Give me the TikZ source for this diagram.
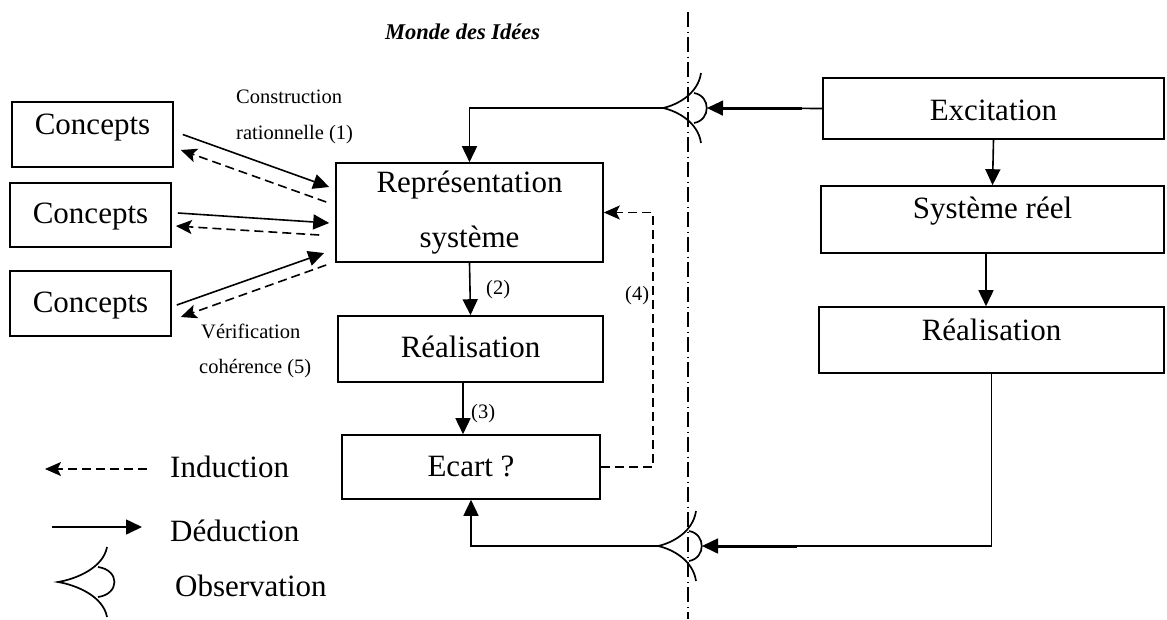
\documentclass[tikz,border=0pt]{standalone}
\usepackage{fontspec}
\setmainfont{Liberation Serif}
\usetikzlibrary{arrows.meta}

\newcommand{\boxfont}{\fontsize{31}{37}\selectfont}
\newcommand{\lblfont}{\fontsize{20.5}{24}\selectfont}

\tikzset{
  box/.style={draw, line width=1.6pt, inner sep=0pt, font=\boxfont},
  lbl/.style={inner sep=0pt, anchor=base west, font=\lblfont},
  legtext/.style={inner sep=0pt, anchor=base west, font=\boxfont},
  deduc/.style={line width=1.6pt, -{Triangle[length=16pt,width=15pt]}},
  induc/.style={line width=1.6pt, dash pattern=on 9pt off 5pt,
                -{Stealth[length=16pt,width=14pt,inset=3.5pt]}},
  eyeline/.style={line width=1.7pt},
  frontier/.style={line width=1.4pt, dash pattern=on 15pt off 4.5pt on 1pt off 4.5pt},
  observer/.pic={
    \draw[eyeline] (38,-35) .. controls (35,-14) and (14,-3) .. (0,0)
                   .. controls (14,3) and (35,14) .. (38,35);
    \draw[eyeline] (31,-15) .. controls (48,-12) and (48,12) .. (31,15);
    \coordinate (-apex) at (0,0);
    \coordinate (-front) at (44,0);
  }
}

\begin{document}
\begin{tikzpicture}[x=1pt, y=-1pt]
\useasboundingbox (0,0) rectangle (1167,619);

% separation between the world of ideas and the real world
\coordinate (sepTop) at (688,12);
\coordinate (sepBot) at (688,619);
\draw[frontier] (sepTop) -- (sepBot);

\node[inner sep=0pt, anchor=base west, font=\fontsize{22.5}{28}\selectfont\bfseries\itshape]
  (title) at (385,39) {Monde des Idées};

% concepts
\node[box, minimum width=161, minimum height=65, text height=14pt, text depth=15pt]
  (c1) at (92.5,134.5) {Concepts};
\node[box, minimum width=161, minimum height=64, text height=22.5pt, text depth=6.5pt]
  (c2) at (90.5,215) {Concepts};
\node[box, minimum width=161, minimum height=65, text height=23pt, text depth=6pt]
  (c3) at (90.5,303.5) {Concepts};

% model side
\node[box, minimum width=267, minimum height=99, align=center,
      font=\fontsize{31}{55}\selectfont]
  (rep) at (469.5,212.5) {Représentation\\système};
\node[box, minimum width=265, minimum height=66, text height=22.5pt, text depth=6.5pt]
  (realg) at (470.5,349) {Réalisation};
\node[box, minimum width=258, minimum height=64, text height=23.5pt, text depth=5.5pt]
  (ecart) at (471,467) {Ecart ?};

% real side
\node[box, minimum width=341, minimum height=61, text height=26pt, text depth=3pt]
  (exc) at (993.5,108.5) {Excitation};
\node[box, minimum width=343, minimum height=67, text height=13pt, text depth=16pt]
  (sys) at (992.5,219.5) {Système réel};
\node[box, minimum width=345, minimum height=66, text height=14.5pt, text depth=14.5pt]
  (realr) at (991.5,340) {Réalisation};

% observation points
\pic (e1) at (663,108) {observer};
\pic (e2) at (658,546) {observer};

% rational construction and coherence check
\draw[deduc] ([shift={(9,0)}]c1.east) -- ([shift={(-6,-25.5)}]rep.west);
\draw[induc] ([shift={(-9,-10.5)}]rep.west) -- ([shift={(7,15.5)}]c1.east);
\draw[deduc] ([shift={(6,-2)}]c2.east) -- ([shift={(-6,10.5)}]rep.west);
\draw[induc] ([shift={(-16,22.5)}]rep.west) -- ([shift={(4,11)}]c2.east);
\draw[deduc] ([shift={(5,1.5)}]c3.east) -- ([shift={(-11,40.5)}]rep.west);
\draw[induc] ([shift={(-9,52.5)}]rep.west) -- ([shift={(9,13.5)}]c3.east);

\node[lbl] (l1a) at (236,103) {Construction};
\node[lbl] (l1b) at (236,139) {rationnelle (1)};
\node[lbl] (l5a) at (201,338) {Vérification};
\node[lbl] (l5b) at (199,373) {cohérence (5)};

% model chain
\draw[deduc] (rep.south) -- (realg.north);
\node[lbl] (l2) at (486,294) {(2)};
\draw[deduc] ([shift={(-7.5,0)}]realg.south) -- ([shift={(-7.5,0)}]realg.south |- ecart.north);
\node[lbl] (l3) at (471,418) {(3)};
\draw[induc] (ecart.east) -- ++(52,0) |- (rep.east);
\node[lbl] (l4) at (625,300) {(4)};

% real chain
\draw[deduc] (exc.south) -- (sys.north);
\draw[deduc] ([shift={(-6.5,0)}]sys.south) -- ([shift={(-6.5,0)}]sys.south |- realr.north);

% observed excitation and observed output
\draw[deduc] (exc.west) -- (e1-front);
\draw[line width=3pt] ([shift={(13,0)}]e1-front) -- ([shift={(95,0)}]e1-front);
\draw[deduc] (e1-apex) -| (rep.north);
\draw[deduc] (realr.south) |- (e2-front);
\draw[line width=3pt] ([shift={(13,0)}]e2-front) -- ([shift={(95,0)}]e2-front);
\draw[deduc] (e2-apex) -| (ecart.south);

% legend
\coordinate (iA) at (147,469);
\coordinate (iB) at (45,469);
\draw[induc] (iA) -- (iB);
\node[legtext] (tInd) at (170,477) {Induction};
\coordinate (dA) at (52,527);
\coordinate (dB) at (142,527);
\draw[deduc] (dA) -- (dB);
\node[legtext] (tDed) at (170,541) {Déduction};
\pic[xscale=1.29] (e3) at (58,582) {observer};
\node[legtext] (tObs) at (175,596) {Observation};
\end{tikzpicture}
\end{document}
